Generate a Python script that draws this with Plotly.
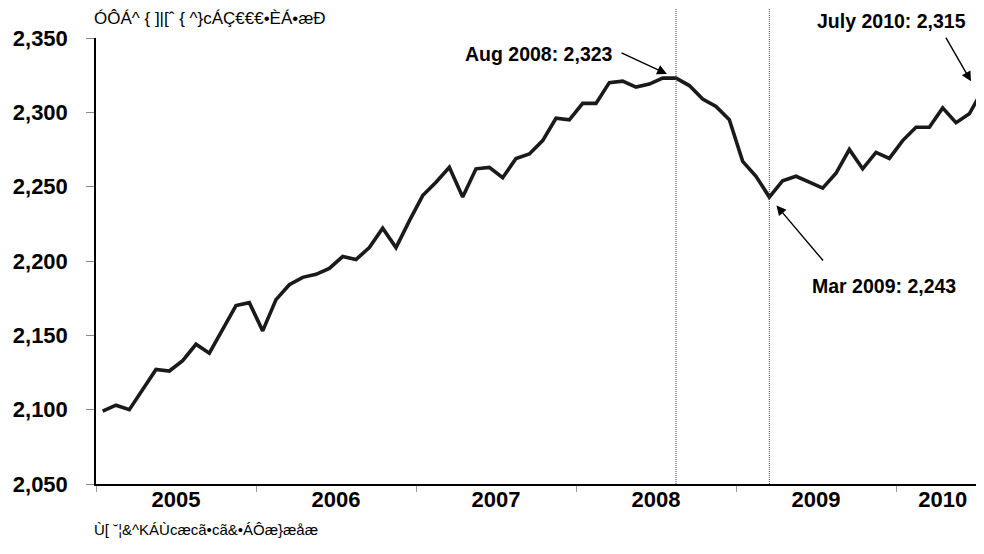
import plotly.graph_objects as go

# Monthly values, Jan 2005 .. Jul 2010
years = [2005, 2006, 2007, 2008, 2009, 2010]
values = [
    2099, 2103, 2100, 2113, 2127, 2126, 2133, 2144, 2138, 2154, 2170, 2172,   # 2005
    2153, 2174, 2184, 2189, 2191, 2195, 2203, 2201, 2209, 2222, 2209, 2227,   # 2006
    2244, 2253, 2263, 2243, 2262, 2263, 2256, 2269, 2272, 2281, 2296, 2295,   # 2007
    2306, 2306, 2320, 2321, 2317, 2319, 2323, 2323, 2318, 2309, 2304, 2295,   # 2008
    2267, 2257, 2243, 2254, 2257, 2253, 2249, 2259, 2275, 2262, 2273, 2269,   # 2009
    2281, 2290, 2290, 2303, 2293, 2299, 2315,                                 # 2010
]
title_text = "ÓÔÁ^ { ]|[ˆ { ^}cÁÇ€€€•ÈÁ•æÐ"
source_text = "Ù[ ˘¦&^KÁÙcæcã•cã&•ÁÔæ}æåæ"
peak_idx, trough_idx, last_idx = 43, 50, len(values) - 1
peak_label = "Aug 2008: 2,323"
trough_label = "Mar 2009: 2,243"
last_label = "July 2010: 2,315"

x = list(range(len(values)))
n = len(values)
year_starts = [(y - years[0]) * 12 - 0.5 for y in years]
year_centers = [s + 6 for s in year_starts]
year_centers[-1] = year_starts[-1] + (n - 0.5 - year_starts[-1]) / 2

xr = [-0.5, 65.5]

fig = go.Figure()
fig.add_trace(go.Scatter(x=x, y=values, mode="lines",
                         line=dict(color="#1a1a1a", width=3.6), showlegend=False,
                         hoverinfo="skip"))
# invisible trace for secondary x axis (year labels)
fig.add_trace(go.Scatter(x=[xr[0]], y=[2050], xaxis="x2", mode="markers",
                         marker=dict(opacity=0), showlegend=False, hoverinfo="skip"))

font_b = "Liberation Sans, Arial, sans-serif"

fig.update_layout(
    width=976, height=546,
    margin=dict(l=88, r=8, t=29.5, b=69.7, autoexpand=False),
    paper_bgcolor="white", plot_bgcolor="white",
    xaxis=dict(range=xr, tickvals=year_starts, ticktext=[""] * len(year_starts),
               ticks="outside", ticklen=6, tickcolor="#999", tickwidth=1,
               showline=True, linecolor="black", linewidth=1.5,
               showgrid=False, zeroline=False),
    xaxis2=dict(range=xr, overlaying="x", side="bottom", tickvals=year_centers,
                ticktext=[str(y) for y in years], ticks="", showline=False,
                showgrid=False, zeroline=False,
                tickfont=dict(family=font_b, size=22, color="black", weight="bold")),
    yaxis=dict(range=[2050, 2350], dtick=50, tickformat=",", ticks="outside",
               ticklen=8, tickcolor="#888", tickwidth=1,
               showline=True, linecolor="black", linewidth=1.5,
               showgrid=False, zeroline=False, ticklabelstandoff=14,
               tickfont=dict(family=font_b, size=22, color="black", weight="bold")),
    font=dict(family=font_b, color="black"),
)

for xi in (peak_idx, trough_idx):
    fig.add_shape(type="line", xref="x", yref="paper", x0=xi, x1=xi, y0=0, y1=1.068,
                  line=dict(color="#444", width=1, dash="1px,1px"))

ann_font = dict(family=font_b, size=19.5, color="black", weight="bold")
arrow_style = dict(showarrow=True, arrowhead=2, arrowsize=1.4, arrowwidth=1.4, arrowcolor="black")
# arrows
for xi, ax, ay, so in ((peak_idx, -56, -26, 10), (trough_idx, 55, 65, 11)):
    fig.add_annotation(x=xi, y=values[xi], xref="x", yref="y", text="",
                       ax=ax, ay=ay, standoff=so, **arrow_style)
# last point sits at the right edge of the visible plot
fig.add_annotation(x=1, y=values[last_idx], xref="paper", yref="y", text="",
                   ax=-31, ay=-54, standoff=10, **arrow_style)
# labels
for xi, txt, xs, ys in ((peak_idx, peak_label, -137, 24), (trough_idx, trough_label, 115, -89)):
    fig.add_annotation(x=xi, y=values[xi], xref="x", yref="y", text=txt, showarrow=False,
                       xshift=xs, yshift=ys, font=ann_font, xanchor="center", yanchor="middle")
fig.add_annotation(x=1, y=values[last_idx], xref="paper", yref="y", text=last_label, showarrow=False,
                   xshift=-85, yshift=69, font=ann_font, xanchor="center", yanchor="middle")

fig.add_annotation(xref="paper", yref="paper", x=-0.004, y=1.044, xanchor="left", yanchor="middle",
                   text=title_text, showarrow=False,
                   font=dict(family="Liberation Sans Narrow, Liberation Sans, sans-serif", size=17, color="black"))
fig.add_annotation(xref="paper", yref="paper", x=-0.004, y=-0.102, xanchor="left", yanchor="middle",
                   text=source_text, showarrow=False,
                   font=dict(family="Liberation Sans Narrow, Liberation Sans, sans-serif", size=15, color="black"))

fig.write_html("out.html")
